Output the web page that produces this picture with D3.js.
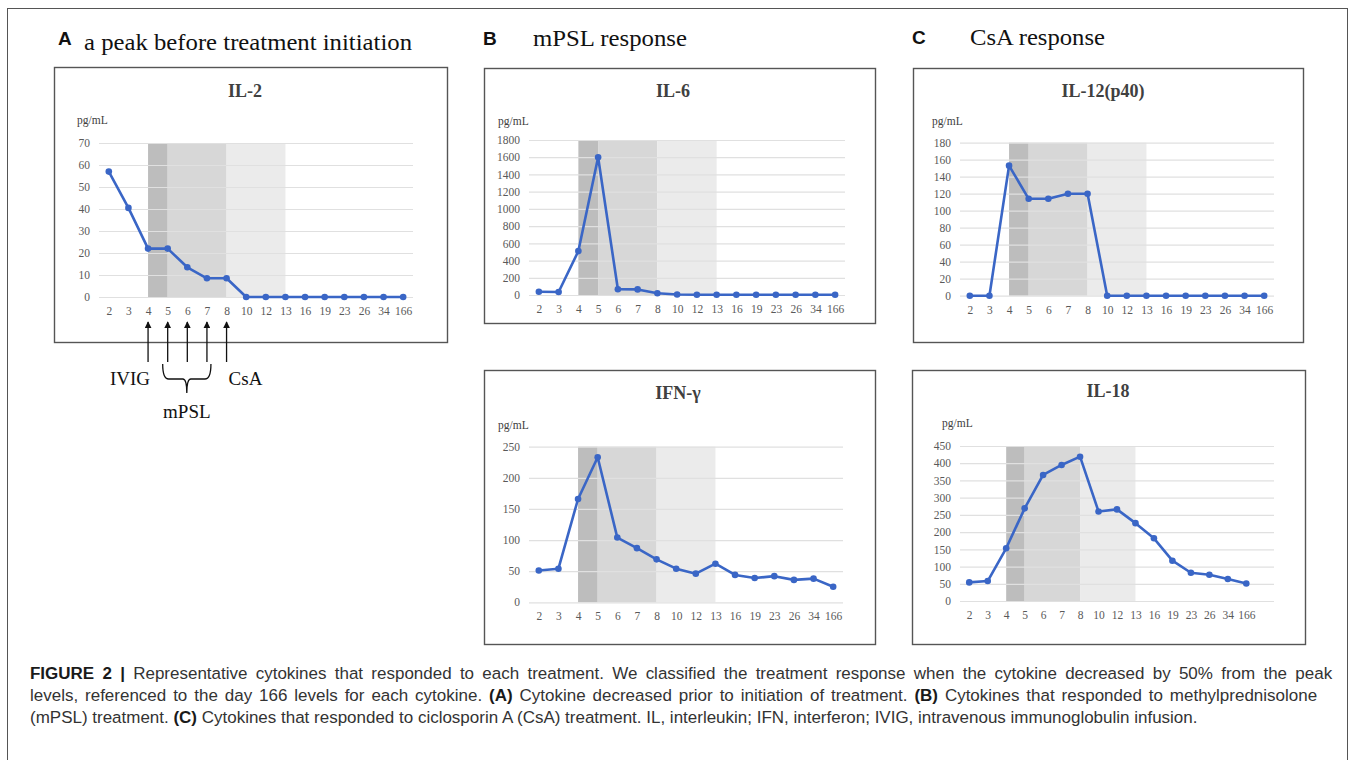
<!DOCTYPE html>
<html>
<head>
<meta charset="utf-8">
<script src="https://cdn.jsdelivr.net/npm/d3@7"></script>
<style>
  body { margin: 0; background: #fff; }
  svg { display: block; }
</style>
</head>
<body>
<svg id="fig" width="1355" height="760"></svg>
<script>
// days after onset (x categories)
const days = ["2", "3", "4", "5", "6", "7", "8", "10", "12", "13", "16", "19", "23", "26", "34", "166"];

// cytokine values, pg/mL
const il2 = [57, 40.5, 22, 22, 13.5, 8.5, 8.5, 0, 0, 0, 0, 0, 0, 0, 0, 0];
const il6 = [38, 35, 510, 1600, 66, 65, 20, 5, 3, 3, 3, 3, 3, 3, 3, 3];
const ifng = [51, 54, 166, 233, 104, 87, 69, 54, 46, 62, 44, 39, 42, 36, 38, 25];
const il12p40 = [0, 0, 153, 114, 114, 120, 120, 0, 0, 0, 0, 0, 0, 0, 0, 0];
const il18 = [54, 58, 153, 269, 366, 395, 419, 260, 266, 226, 182, 117, 82, 76, 64, 51];

// y tick labels
const il2Ticks = [0, 10, 20, 30, 40, 50, 60, 70];
const il6Ticks = [0, 200, 400, 600, 800, 1000, 1200, 1400, 1600, 1800];
const ifngTicks = [0, 50, 100, 150, 200, 250];
const il12Ticks = [0, 20, 40, 60, 80, 100, 120, 140, 160, 180];
const il18Ticks = [0, 50, 100, 150, 200, 250, 300, 350, 400, 450];

// treatment periods (IVIG, mPSL, CsA)
const shadeFrom = ["4", "5", "8"];
const shadeTo = ["5", "8", "13"];
const shadeColors = ["#bdbdbd", "#d7d7d7", "#ebebeb"];

// arrows under panel A
const arrowDays = ["4", "5", "6", "7", "8"];

const blue = "#3a66c6";
const serif = "'Liberation Serif', 'Times New Roman', serif";
const sans = "'Liberation Sans', Arial, sans-serif";

const svg = d3.select("#fig");

// outer frame
svg.append("rect")
  .attr("x", 7.5).attr("y", 8.5)
  .attr("width", 1340).attr("height", 800)
  .attr("fill", "none").attr("stroke", "#555").attr("stroke-width", 1);

// panel headers
function header(letter, lx, ly, text, tx, ty, len) {
  svg.append("text").attr("x", lx).attr("y", ly)
    .attr("font-family", sans).attr("font-weight", "bold").attr("font-size", 19)
    .attr("fill", "#111").text(letter);
  svg.append("text").attr("x", tx).attr("y", ty)
    .attr("font-family", serif).attr("font-size", 23)
    .attr("textLength", len).attr("lengthAdjust", "spacingAndGlyphs")
    .attr("fill", "#111").text(text);
}
header("A", 58, 45, "a peak before treatment initiation", 84, 50, 328);
header("B", 483, 44.5, "mPSL response", 533, 46, 154);
header("C", 912, 44, "CsA response", 970, 45, 135);

const panels = [
  { title: "IL-2", values: il2, ticks: il2Ticks, box: [54, 67, 393, 275], plot: [99, 413, 143, 297],
    titleX: 245, titleY: 97, unitX: 77, unitY: 124 },
  { title: "IL-6", values: il6, ticks: il6Ticks, box: [484, 68, 391, 255], plot: [529, 845, 140, 295],
    titleX: 673, titleY: 97, unitX: 498, unitY: 125 },
  { title: "IFN-γ", values: ifng, ticks: ifngTicks, box: [484, 370, 391, 274], plot: [529, 843, 446.7, 602.3],
    titleX: 678, titleY: 399, unitX: 498, unitY: 429 },
  { title: "IL-12(p40)", values: il12p40, ticks: il12Ticks, box: [913, 68, 390, 274], plot: [960, 1274, 142.7, 295.7],
    titleX: 1103, titleY: 96.5, unitX: 932, unitY: 125 },
  { title: "IL-18", values: il18, ticks: il18Ticks, box: [912, 370, 393, 274], plot: [960, 1274, 446, 601],
    titleX: 1108, titleY: 397, unitX: 942, unitY: 427, extraSlot: true }
];

let xA = null;

panels.forEach((p, i) => {
  const [left, right, top, bottom] = p.plot;
  const g = svg.append("g");

  g.append("rect")
    .attr("x", p.box[0] + 0.5).attr("y", p.box[1] + 0.5)
    .attr("width", p.box[2]).attr("height", p.box[3])
    .attr("fill", "#fff").attr("stroke", "#555").attr("stroke-width", 1.4);

  const domain = p.extraSlot ? days.concat(["_pad"]) : days;
  const x = d3.scalePoint().domain(domain).range([left, right]).padding(0.5);
  const y = d3.scaleLinear().domain([0, d3.max(p.ticks)]).range([bottom, top]);
  if (i === 0) xA = x;

  // treatment shading
  shadeFrom.forEach((d, k) => {
    g.append("rect")
      .attr("x", x(d)).attr("y", top)
      .attr("width", x(shadeTo[k]) - x(d)).attr("height", bottom - top)
      .attr("fill", shadeColors[k]);
  });

  // gridlines
  g.append("g")
    .attr("transform", `translate(${left},0)`)
    .call(d3.axisLeft(y).tickValues(p.ticks).tickSize(-(right - left)).tickFormat(""))
    .call(a => a.select(".domain").remove())
    .call(a => a.selectAll("line").attr("stroke", "#e0e0e0").attr("stroke-width", 1.2));

  // y labels
  g.append("g")
    .attr("transform", `translate(${left - 9},0)`)
    .call(d3.axisLeft(y).tickValues(p.ticks).tickSize(0).tickPadding(0).tickFormat(d3.format("d")))
    .call(a => a.select(".domain").remove())
    .call(a => a.selectAll("text").attr("font-family", serif).attr("font-size", 11.5).attr("fill", "#595959"));

  // x labels
  g.append("g")
    .attr("transform", `translate(0,${bottom})`)
    .call(d3.axisBottom(x).tickValues(days).tickSize(0).tickPadding(10))
    .call(a => a.select(".domain").remove())
    .call(a => a.selectAll("text").attr("font-family", serif).attr("font-size", 11.5).attr("fill", "#595959"));

  // title and unit
  g.append("text").attr("x", p.titleX).attr("y", p.titleY)
    .attr("text-anchor", "middle")
    .attr("font-family", serif).attr("font-weight", "bold").attr("font-size", 18)
    .attr("fill", "#404040").text(p.title);
  g.append("text").attr("x", p.unitX).attr("y", p.unitY)
    .attr("font-family", serif).attr("font-size", 11.5)
    .attr("fill", "#404040").text("pg/mL");

  const pts = days.map((d, k) => ({ day: d, v: p.values[k] }));
  const line = d3.line().x(d => x(d.day)).y(d => y(d.v));

  g.append("path")
    .datum(pts)
    .attr("d", line)
    .attr("fill", "none")
    .attr("stroke", blue)
    .attr("stroke-width", 2.6)
    .attr("stroke-linejoin", "round");

  g.selectAll("circle.pt").data(pts).enter().append("circle")
    .attr("class", "pt")
    .attr("cx", d => x(d.day))
    .attr("cy", d => y(d.v))
    .attr("r", 3.3)
    .attr("fill", blue);
});

// treatment arrows under panel A
const defs = svg.append("defs");
defs.append("marker")
  .attr("id", "head").attr("viewBox", "0 0 10 10")
  .attr("refX", 9).attr("refY", 5)
  .attr("markerWidth", 7).attr("markerHeight", 7)
  .attr("markerUnits", "userSpaceOnUse")
  .attr("orient", "auto")
  .append("path").attr("d", "M0,0 L10,5 L0,10 z").attr("fill", "#111");

arrowDays.forEach(d => {
  svg.append("line")
    .attr("x1", xA(d)).attr("y1", 362)
    .attr("x2", xA(d)).attr("y2", 322)
    .attr("stroke", "#111").attr("stroke-width", 1.3)
    .attr("marker-end", "url(#head)");
});

svg.append("text").attr("x", xA("4") + 2).attr("y", 385)
  .attr("text-anchor", "end").attr("font-family", serif).attr("font-size", 19)
  .attr("fill", "#111").text("IVIG");
svg.append("text").attr("x", xA("8") + 2).attr("y", 385)
  .attr("text-anchor", "start").attr("font-family", serif).attr("font-size", 19)
  .attr("fill", "#111").text("CsA");

// brace for mPSL days
const bl = xA("5") - 5, br = xA("7") + 4, bm = (bl + br) / 2;
svg.append("path")
  .attr("d", `M${bl},364 Q${bl},379 ${bl + 6},379 L${bm - 4},379 Q${bm},379 ${bm},393 Q${bm},379 ${bm + 4},379 L${br - 6},379 Q${br},379 ${br},364`)
  .attr("fill", "none").attr("stroke", "#111").attr("stroke-width", 1.3);
svg.append("text").attr("x", bm).attr("y", 418)
  .attr("text-anchor", "middle").attr("font-family", serif).attr("font-size", 19)
  .attr("fill", "#111").text("mPSL");

// caption: squeezed horizontally, full lines justified with extra word spacing
const capFont = "'Liberation Sans', Arial, sans-serif";
const captionLines = [
  { y: 679, len: 1303, parts: [["FIGURE 2 |", true], [" Representative cytokines that responded to each treatment. We classified the treatment response when the cytokine decreased by 50% from the peak", false]] },
  { y: 701, len: 1288, parts: [["levels, referenced to the day 166 levels for each cytokine. ", false], ["(A)", true], [" Cytokine decreased prior to initiation of treatment. ", false], ["(B)", true], [" Cytokines that responded to methylprednisolone", false]] },
  { y: 723, len: 1042, parts: [["(mPSL) treatment. ", false], ["(C)", true], [" Cytokines that responded to ciclosporin A (CsA) treatment. IL, interleukin; IFN, interferon; IVIG, intravenous immunoglobulin infusion.", false]] }
];
const cap = svg.append("g");
const capTexts = captionLines.map(l => {
  const t = cap.append("text").attr("x", 0).attr("y", l.y)
    .attr("font-family", capFont).attr("font-size", 17)
    .attr("fill", "#333")
    .style("white-space", "pre");
  l.parts.forEach(([s, b]) => {
    t.append("tspan").attr("font-weight", b ? "bold" : "normal")
      .attr("fill", b ? "#1a1a1a" : "#333").text(s);
  });
  return t;
});
const widths = capTexts.map(t => t.node().getComputedTextLength());
const squeeze = Math.min(1, d3.mean(captionLines, (l, k) => l.len / widths[k]));
cap.attr("transform", `translate(30,0) scale(${squeeze},1)`);
capTexts.forEach((t, k) => {
  const txt = captionLines[k].parts.map(d => d[0]).join("");
  const spaces = (txt.match(/ /g) || []).length;
  const extra = Math.max(0, (captionLines[k].len / squeeze - widths[k]) / spaces);
  t.style("word-spacing", `${extra}px`);
});
</script>
</body>
</html>
